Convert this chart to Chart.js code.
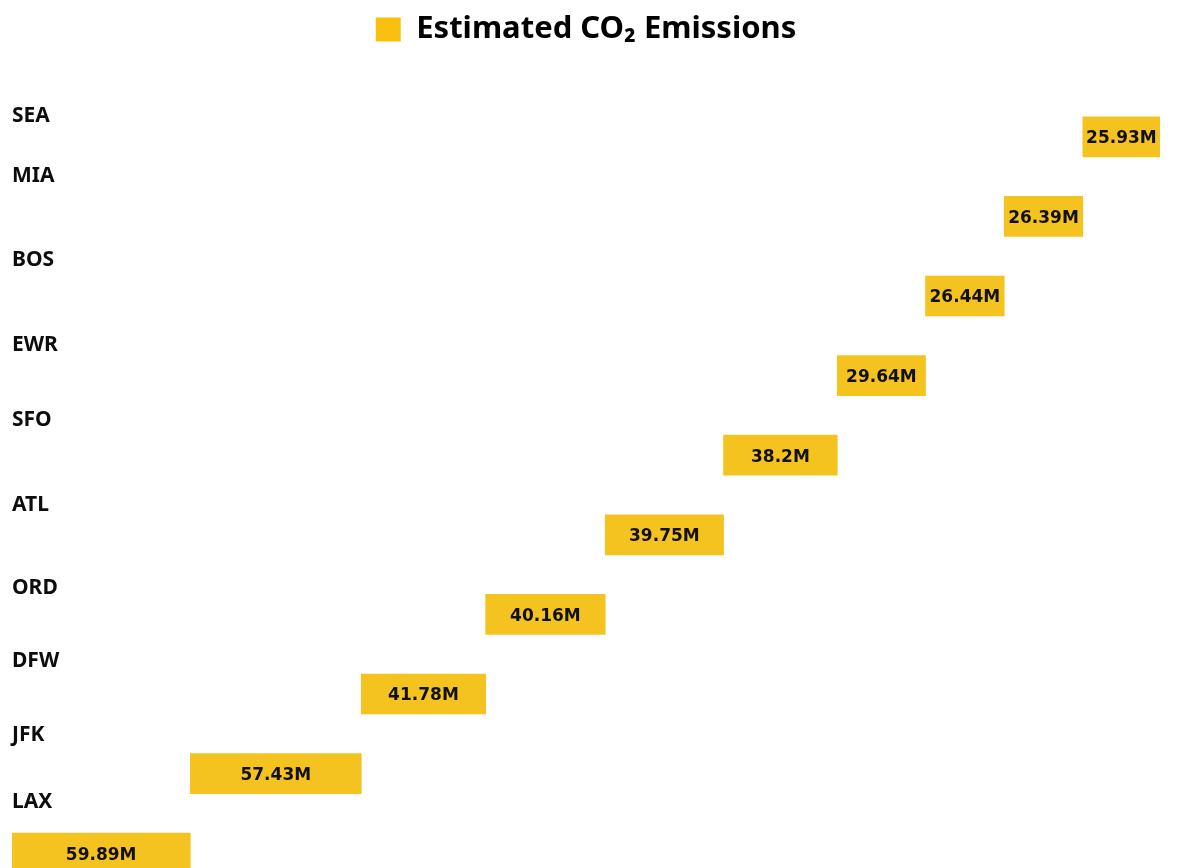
<!DOCTYPE html>
<html>
<head>
<meta charset="utf-8">
<script src="https://cdn.jsdelivr.net/npm/chart.js@4.4.1/dist/chart.umd.min.js"></script>
<style>
  html, body { margin: 0; padding: 0; background: #fff; overflow: hidden; }
  #wrap { width: 1198px; height: 900px; }
</style>
</head>
<body>
<div id="wrap"><canvas id="co2Chart"></canvas></div>
<script>
// airports, bottom (biggest) to top
var airports = ["LAX", "JFK", "DFW", "ORD", "ATL", "SFO", "EWR", "BOS", "MIA", "SEA"];
var emissions = [59.89, 57.43, 41.78, 40.16, 39.75, 38.2, 29.64, 26.44, 26.39, 25.93];
var seriesName = "Estimated CO\u2082 Emissions";

// waterfall: each bar starts where the previous one ended
var ranges = [];
var running = 0;
for (var i = 0; i < emissions.length; i++) {
    ranges.push([running, running + emissions[i]]);
    running += emissions[i];
}

// chart.js draws the first label at the top, so flip
var labelsTopDown = airports.slice().reverse();
var rangesTopDown = ranges.slice().reverse();
var valuesTopDown = emissions.slice().reverse();

// the airport names sit a bit above their bars in the original
var labelNudge = [21, 40, 36, 31, 35, 30, 26, 33, 39, 51];

var extraPlugin = {
    id: "extras",
    beforeInit: function (chart) {
        var fit = chart.legend.fit;
        chart.legend.fit = function () {
            fit.bind(chart.legend)();
            this.height += 42;
        };
    },
    afterDatasetsDraw: function (chart) {
        var ctx = chart.ctx;
        var meta = chart.getDatasetMeta(0);
        var yScale = chart.scales.y;
        ctx.save();
        ctx.fillStyle = "#111";
        ctx.font = "bold 17px 'DejaVu Sans'";
        ctx.textAlign = "center";
        ctx.textBaseline = "middle";
        meta.data.forEach(function (bar, idx) {
            var cx = (bar.x + bar.base) / 2;
            ctx.fillText(valuesTopDown[idx] + "M", cx, bar.y + 2);
        });
        ctx.font = "bold 21px 'Noto Sans'";
        ctx.textAlign = "left";
        ctx.fillStyle = "#0d0d0d";
        labelsTopDown.forEach(function (lbl, idx) {
            var y = yScale.getPixelForValue(idx) - labelNudge[idx];
            ctx.fillText(lbl, 12, y);
        });
        ctx.restore();
    }
};

var config = {
    type: "bar",
    data: {
        labels: labelsTopDown,
        datasets: [{
            label: seriesName,
            data: rangesTopDown,
            backgroundColor: "#f5c320",
            borderWidth: 0,
            barThickness: 40
        }]
    },
    options: {
        indexAxis: "y",
        responsive: true,
        maintainAspectRatio: false,
        animation: false,
        layout: { padding: { top: 4, left: 12, right: 38, bottom: 7 } },
        scales: {
            x: { display: false, min: 0, max: running },
            y: { display: false }
        },
        plugins: {
            legend: {
                position: "top",
                labels: {
                    boxWidth: 25,
                    boxHeight: 24,
                    color: "#0d0d0d",
                    font: { family: "'Noto Sans'", size: 31, weight: "bold" },
                    generateLabels: function (chart) {
                        return [{
                            text: seriesName,
                            fillStyle: "#f9c00f",
                            strokeStyle: "#f9c00f",
                            lineWidth: 0,
                            datasetIndex: 0
                        }];
                    }
                }
            },
            tooltip: { enabled: false }
        }
    },
    plugins: [extraPlugin]
};

var co2Chart = new Chart(document.getElementById("co2Chart"), config);
</script>
</body>
</html>
